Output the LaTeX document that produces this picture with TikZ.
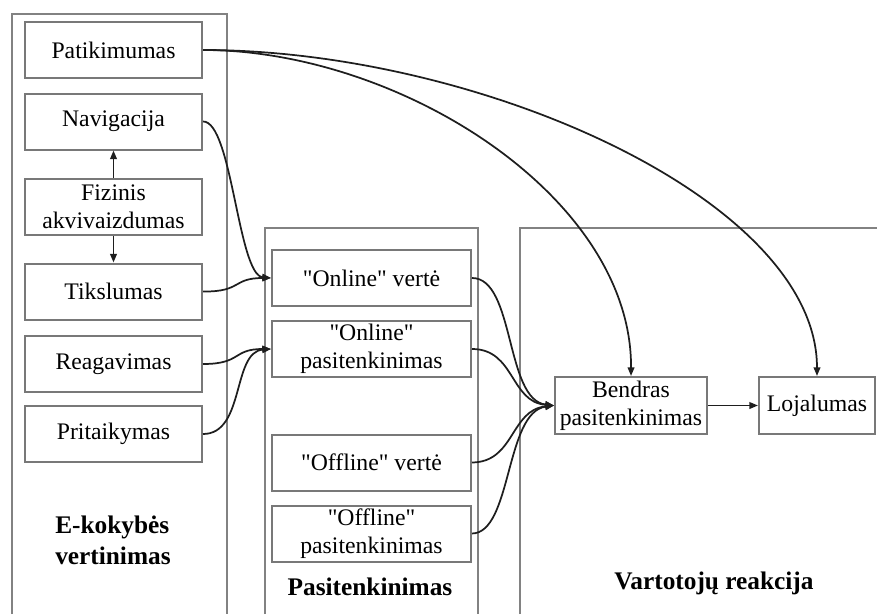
\documentclass[tikz,border=0pt]{standalone}
\usepackage{fontspec}
\setmainfont{Liberation Serif}[Ligatures=TeXOff]
\usetikzlibrary{arrows.meta}

\definecolor{framegray}{RGB}{130,130,130}
\definecolor{boxgray}{RGB}{120,120,120}
\definecolor{linedark}{RGB}{30,30,30}

\tikzset{
  panel/.style={draw=framegray, line width=1.2pt},
  box/.style={draw=boxgray, line width=1.5pt, rectangle, inner sep=0pt,
    align=center, font=\fontsize{17.8}{21}\selectfont},
  lbox/.style={box, minimum width=132.75pt, minimum height=42pt},
  mbox/.style={box, minimum width=149.25pt, minimum height=42pt},
  title/.style={font=\fontsize{19}{23}\selectfont\bfseries, inner sep=0pt},
  conn/.style={draw=linedark, line width=1.3pt,
    -{Triangle[length=6.5pt,width=5pt]}},
}

\begin{document}
\begin{tikzpicture}[x=0.75pt, y=-0.75pt]
\useasboundingbox (0,0) rectangle (877,614);

% group frames
\draw[panel] (12,614) -- (12,14) -- (227,14) -- (227,614);
\draw[panel] (265,614) -- (265,228) -- (478,228) -- (478,614);
\draw[panel] (520,614) -- (520,228) -- (877,228);

% quality dimensions
\node[lbox] (pat) at (113.5,50) {Patikimumas};
\node[lbox] (nav) at (113.5,121.5) {Navigacija};
\node[lbox] (fiz) at (113.5,207) {Fizinis\\akvivaizdumas};
\node[lbox] (tik) at (113.5,291.5) {Tikslumas};
\node[lbox] (rea) at (113.5,364) {Reagavimas};
\node[lbox] (pri) at (113.5,434) {Pritaikymas};
\node[title, align=left, anchor=north west] (ek) at (55,516) {E-kokybės\\vertinimas};

% satisfaction
\node[mbox] (onv) at (371.5,278) {"Online" vertė};
\node[mbox] (onp) at (371.5,349) {"Online"\\pasitenkinimas};
\node[mbox] (ofv) at (371.5,462.5) {"Offline" vertė};
\node[mbox] (ofp) at (371.5,533.5) {"Offline"\\pasitenkinimas};
\node[title] (pas) at (370,587) {Pasitenkinimas};

% customer reaction
\node[box, minimum width=114pt, minimum height=42.75pt] (ben) at (631,405.5) {Bendras\\pasitenkinimas};
\node[box, minimum width=87pt, minimum height=42.75pt] (loj) at (817,405.5) {Lojalumas};
\node[title] (var) at (714,583) {Vartotojų reakcija};

% connectors
\draw[conn] (fiz.north) -- (nav.south);
\draw[conn] (fiz.south) -- (tik.north);

\draw[conn] (nav.east) .. controls (232,121) and (238,275) .. (onv.west);
\draw[conn] (tik.east) .. controls (242,292) and (232,278) .. (onv.west);
\draw[conn] (rea.east) .. controls (242,364) and (232,349) .. (onp.west);
\draw[conn] (pri.east) .. controls (245,434) and (232,352) .. (onp.west);

\draw[conn] (onv.east) .. controls (515,278) and (505,400) .. (ben.west);
\draw[conn] (onp.east) .. controls (515,349) and (510,402) .. (ben.west);
\draw[conn] (ofv.east) .. controls (515,462) and (510,410) .. (ben.west);
\draw[conn] (ofp.east) .. controls (512,533) and (505,412) .. (ben.west);

\draw[conn] (pat.east) .. controls (400,50) and (632,197) .. (ben.north);
\draw[conn] (pat.east) .. controls (480,50) and (817,200) .. (loj.north);

\draw[conn] (ben.east) -- (loj.west);
\end{tikzpicture}
\end{document}
